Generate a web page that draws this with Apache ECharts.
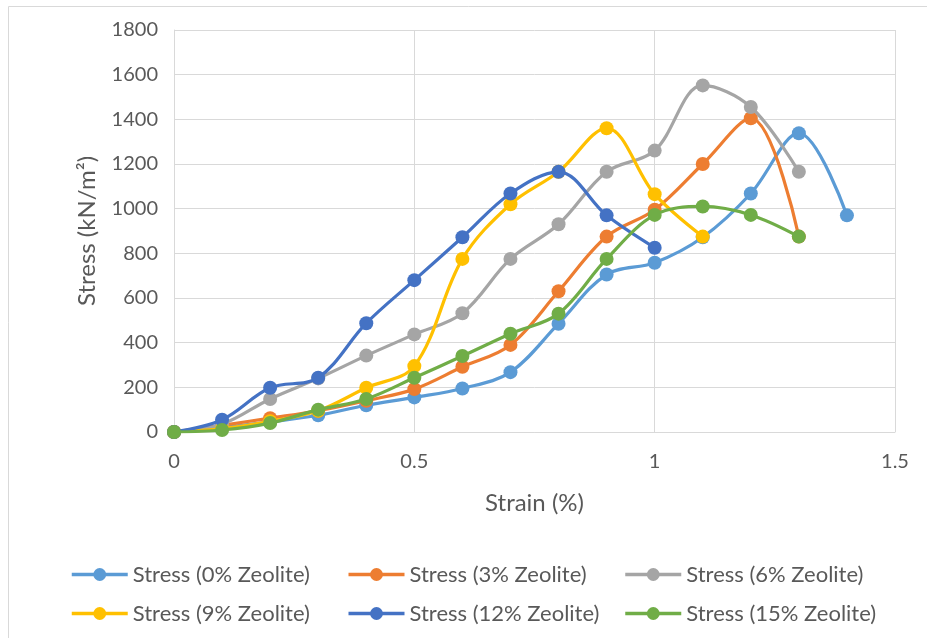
<!DOCTYPE html>
<html>
<head>
<meta charset="utf-8">
<script src="https://cdn.jsdelivr.net/npm/echarts@6/dist/echarts.min.js"></script>
<style>html,body{margin:0;padding:0;background:#fff}#c{width:927px;height:638px}</style>
</head>
<body>
<div id="c"></div>
<script>
const strain = [0, 0.1, 0.2, 0.3, 0.4, 0.5, 0.6, 0.7, 0.8, 0.9, 1.0, 1.1, 1.2, 1.3, 1.4];
const seriesNames = ["Stress (0% Zeolite)", "Stress (3% Zeolite)", "Stress (6% Zeolite)", "Stress (9% Zeolite)", "Stress (12% Zeolite)", "Stress (15% Zeolite)"];
const stress0 = [0, 20, 45, 75, 120, 155, 195, 268, 485, 705, 758, 872, 1068, 1338, 970];
const stress3 = [0, 30, 62, 95, 140, 192, 292, 390, 630, 875, 995, 1200, 1405, 875];
const stress6 = [0, 35, 148, 240, 342, 437, 532, 775, 930, 1165, 1260, 1552, 1455, 1165];
const stress9 = [0, 15, 48, 95, 198, 295, 775, 1020, 1165, 1360, 1065, 875];
const stress12 = [0, 55, 198, 243, 487, 680, 872, 1068, 1165, 970, 825];
const stress15 = [0, 9, 40, 100, 148, 243, 340, 440, 530, 775, 972, 1010, 972, 875];
const colors = ["#5B9BD5", "#ED7D31", "#A5A5A5", "#FFC000", "#4472C4", "#70AD47"];
const allData = [stress0, stress3, stress6, stress9, stress12, stress15];

const font = "Lato, 'Open Sans', sans-serif";
const chart = echarts.init(document.getElementById('c'), null, {renderer: 'canvas'});
const series = allData.map((arr, i) => ({
  name: seriesNames[i],
  type: 'line',
  data: arr.map((v, j) => [strain[j], v]),
  smooth: 0.35,
  symbol: 'circle',
  symbolSize: 14,
  showSymbol: true,
  lineStyle: {width: 3.2, color: colors[i]},
  itemStyle: {color: colors[i]},
  z: 2 + i
}));
chart.setOption({
  animation: false,
  color: colors,
  graphic: [{
    type: 'rect', shape: {x: 8.5, y: 6.5, width: 960, height: 700},
    style: {fill: 'none', stroke: '#d9d9d9', lineWidth: 1}, silent: true, z: -1
  }],
  grid: {left: 174, right: 32, top: 30, bottom: 206},
  xAxis: {
    type: 'value', min: 0, max: 1.5, interval: 0.5,
    name: 'Strain (%)', nameLocation: 'middle', nameGap: 59,
    nameTextStyle: {fontFamily: font, fontSize: 24, color: '#595959'},
    axisLine: {show: true, lineStyle: {color: '#d9d9d9', width: 1}},
    axisTick: {show: false},
    axisLabel: {fontFamily: font, fontSize: 20, color: '#595959', margin: 20,
      formatter: v => String(v)},
    splitLine: {show: true, lineStyle: {color: '#d9d9d9', width: 1}}
  },
  yAxis: {
    type: 'value', min: 0, max: 1800, interval: 200,
    name: 'Stress (kN/m²)', nameLocation: 'middle', nameGap: 75, nameRotate: 90,
    nameTextStyle: {fontFamily: font, fontSize: 24, color: '#595959'},
    axisLine: {show: true, lineStyle: {color: '#d9d9d9', width: 1}},
    axisTick: {show: false},
    axisLabel: {fontFamily: font, fontSize: 20, color: '#595959', margin: 16,
      formatter: v => String(v)},
    splitLine: {show: true, lineStyle: {color: '#d9d9d9', width: 1}}
  },
  legend: {
    data: seriesNames,
    left: 70, top: 561, width: 840, padding: 0,
    orient: 'horizontal',
    itemWidth: 56, itemHeight: 16, itemGap: 12,
    lineStyle: {width: 3.5},
    textStyle: {fontFamily: font, fontSize: 22, color: '#595959', width: 202, lineHeight: 27, overflow: 'none'}
  },
  series: series
});
</script>
</body>
</html>
